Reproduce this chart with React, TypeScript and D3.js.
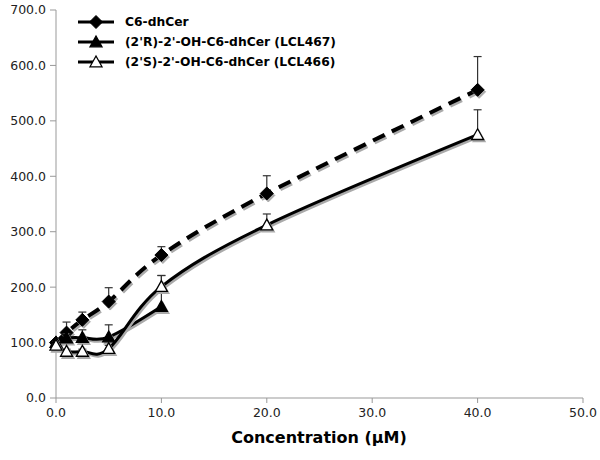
import React from "react";
import * as d3 from "d3";

const concentrations = [0, 1, 2.5, 5, 10, 20, 40];
const c6Values = [100, 118, 141, 174, 258, 369, 556];
const c6Errors = [2, 19, 14, 25, 15, 32, 60];
const rValues = [100, 108, 109, 110, 165];
const rErrors = [2, 8, 14, 22, 56];
const sValues = [95, 84, 84, 89, 201, 312, 475];
const sErrors = [2, 4, 4, 6, 20, 20, 45];
const seriesNames = [
  "C6-dhCer",
  "(2'R)-2'-OH-C6-dhCer (LCL467)",
  "(2'S)-2'-OH-C6-dhCer (LCL466)",
];
const xTicks = [0, 10, 20, 30, 40, 50];
const yTicks = [0, 100, 200, 300, 400, 500, 600, 700];
const xTitle = "Concentration (µM)";

const W = 600;
const H = 460;
const left = 56;
const right = 583;
const top = 10;
const bottom = 398;
const FONT = "'DejaVu Sans', Verdana, sans-serif";

type Marker = "diamond" | "triFilled" | "triOpen";

function MarkerShape({ x, y, type, shadow }: { x: number; y: number; type: Marker; shadow?: boolean }) {
  const dx = shadow ? 1.5 : 0;
  const dy = shadow ? 2 : 0;
  const fillCol = shadow ? "#aaa" : type === "triOpen" ? "#fff" : "#000";
  const strokeCol = shadow ? "#aaa" : "#000";
  if (type === "diamond") {
    const s = 6.5;
    return (
      <path
        d={`M${x + dx},${y + dy - s}L${x + dx + s},${y + dy}L${x + dx},${y + dy + s}L${x + dx - s},${y + dy}Z`}
        fill={fillCol}
        stroke={strokeCol}
        strokeWidth={1}
      />
    );
  }
  const s = 6;
  return (
    <path
      d={`M${x + dx},${y + dy - s}L${x + dx + s},${y + dy + s * 0.8}L${x + dx - s},${y + dy + s * 0.8}Z`}
      fill={fillCol}
      stroke={strokeCol}
      strokeWidth={1.3}
    />
  );
}

export default function App() {
  const x = d3.scaleLinear().domain([0, 50]).range([left, right]);
  const y = d3.scaleLinear().domain([0, 700]).range([bottom, top]);
  const line = d3
    .line<number>()
    .x((_, i) => x(concentrations[i]))
    .y((d) => y(d))
    .curve(d3.curveCardinal.tension(0));

  const series = [
    { values: c6Values, errors: c6Errors, marker: "diamond" as Marker, dash: "13,8", width: 4 },
    { values: rValues, errors: rErrors, marker: "triFilled" as Marker, dash: undefined, width: 3 },
    { values: sValues, errors: sErrors, marker: "triOpen" as Marker, dash: undefined, width: 3 },
  ];

  const fmt = d3.format(".1f");

  return (
    <svg
      width={W}
      height={H}
      style={{ position: "absolute", left: 0, top: 0, background: "#fff" }}
      fontFamily={FONT}
    >
      <rect width={W} height={H} fill="#fff" />
      {/* axes */}
      <line x1={left} x2={left} y1={top} y2={bottom} stroke="#999" strokeWidth={1} />
      <line x1={left} x2={right} y1={bottom} y2={bottom} stroke="#999" strokeWidth={1} />
      {yTicks.map((t) => (
        <g key={"y" + t}>
          <line x1={left - 6} x2={left} y1={y(t)} y2={y(t)} stroke="#999" />
          <text x={left - 10} y={y(t)} dy="0.35em" textAnchor="end" fontSize={12.5} fill="#222">
            {fmt(t)}
          </text>
        </g>
      ))}
      {xTicks.map((t) => (
        <g key={"x" + t}>
          <line x1={x(t)} x2={x(t)} y1={bottom} y2={bottom + 5} stroke="#999" />
          <text x={x(t)} y={bottom + 19} textAnchor="middle" fontSize={12.5} fill="#222">
            {fmt(t)}
          </text>
        </g>
      ))}
      <text x={319} y={443} textAnchor="middle" fontSize={16} fontWeight="bold" fill="#000">
        {xTitle}
      </text>

      {/* series */}
      {series.map((s, si) => (
        <g key={"s" + si}>
          {s.values.map((v, i) => (
            <g key={"e" + i}>
              <line
                x1={x(concentrations[i])}
                x2={x(concentrations[i])}
                y1={y(v)}
                y2={y(v + s.errors[i])}
                stroke="#333"
                strokeWidth={1.2}
              />
              <line
                x1={x(concentrations[i]) - 4}
                x2={x(concentrations[i]) + 4}
                y1={y(v + s.errors[i])}
                y2={y(v + s.errors[i])}
                stroke="#333"
                strokeWidth={1.2}
              />
            </g>
          ))}
          <path
            d={line(s.values) || ""}
            fill="none"
            stroke="#aaa"
            strokeWidth={s.width}
            strokeDasharray={s.dash}
            transform="translate(1.5,2)"
          />
          <path d={line(s.values) || ""} fill="none" stroke="#000" strokeWidth={s.width} strokeDasharray={s.dash} />
          {s.values.map((v, i) => (
            <MarkerShape key={"ms" + i} x={x(concentrations[i])} y={y(v)} type={s.marker} shadow />
          ))}
          {s.values.map((v, i) => (
            <MarkerShape key={"m" + i} x={x(concentrations[i])} y={y(v)} type={s.marker} />
          ))}
        </g>
      ))}

      {/* legend */}
      {series.map((s, si) => {
        const ly = 22 + si * 20;
        return (
          <g key={"l" + si}>
            <line x1={78} x2={114} y1={ly} y2={ly} stroke="#000" strokeWidth={3} />
            <MarkerShape x={96} y={ly} type={s.marker} />
            <text x={125} y={ly} dy="0.35em" fontSize={12.3} fontWeight="bold" fill="#000">
              {seriesNames[si]}
            </text>
          </g>
        );
      })}
    </svg>
  );
}
